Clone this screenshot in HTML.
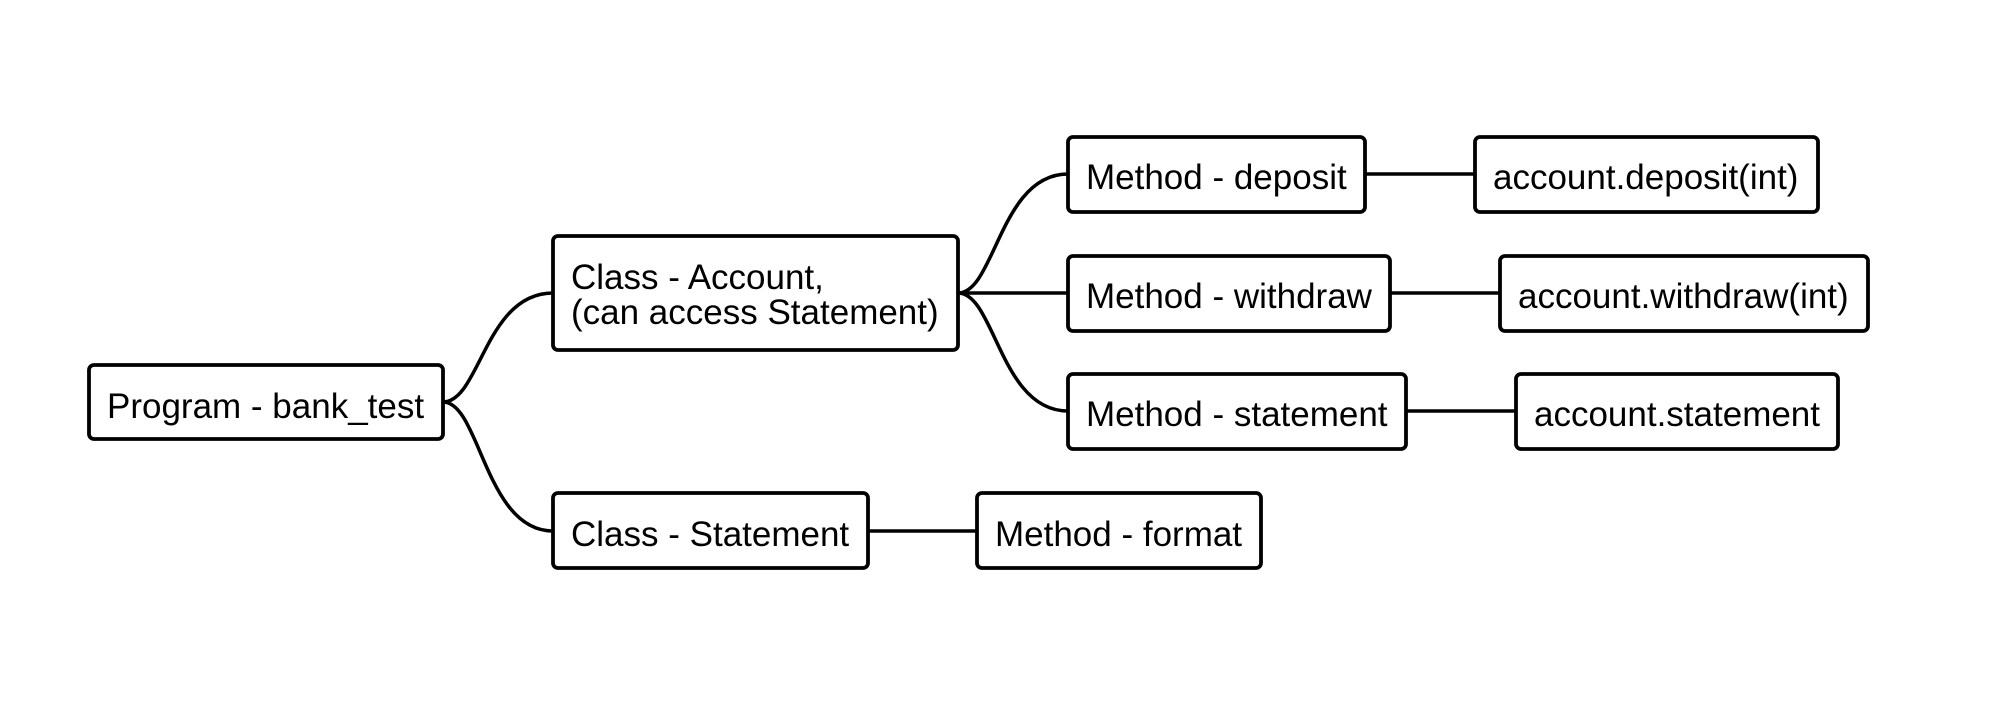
<!DOCTYPE html>
<html><head><meta charset="utf-8"><style>
html,body{margin:0;padding:0;background:#fff;}
svg{display:block;}
text{font-family:"Liberation Sans",Arial,sans-serif;font-size:35px;fill:#000;}
</style></head><body>
<svg width="1990" height="724" viewBox="0 0 1990 724" xmlns="http://www.w3.org/2000/svg">
<g fill="none" stroke="#000" stroke-width="3.5">
<path d="M443 402 C480 402,485 293,553 293"/>
<path d="M443 402 C480 402,485 531,553 531"/>
<path d="M958 293 C995 293,1000 174,1068 174"/>
<path d="M958 293 L1068 293"/>
<path d="M958 293 C995 293,1000 411,1068 411"/>
<path d="M1365 174 L1475 174"/>
<path d="M1390 293 L1500 293"/>
<path d="M1406 411 L1516 411"/>
<path d="M868 531 L977 531"/>
</g>
<g fill="#fff" stroke="#000" stroke-width="3.8">
<rect x="89" y="365" width="354" height="74" rx="5"/>
<rect x="553" y="236" width="405" height="114" rx="5"/>
<rect x="553" y="493" width="315" height="75" rx="5"/>
<rect x="977" y="493" width="284" height="75" rx="5"/>
<rect x="1068" y="137" width="297" height="75" rx="5"/>
<rect x="1068" y="256" width="322" height="75" rx="5"/>
<rect x="1068" y="374" width="338" height="75" rx="5"/>
<rect x="1475" y="137" width="343" height="75" rx="5"/>
<rect x="1500" y="256" width="368" height="75" rx="5"/>
<rect x="1516" y="374" width="322" height="75" rx="5"/>
</g>
<text x="107" y="418">Program - bank_test</text>
<text x="571" y="289">Class - Account,</text>
<text x="571" y="324">(can access Statement)</text>
<text x="571" y="546">Class - Statement</text>
<text x="995" y="546">Method - format</text>
<text x="1086" y="189">Method - deposit</text>
<text x="1086" y="308">Method - withdraw</text>
<text x="1086" y="426">Method - statement</text>
<text x="1493" y="189">account.deposit(int)</text>
<text x="1518" y="308">account.withdraw(int)</text>
<text x="1534" y="426">account.statement</text>
</svg>
</body></html>
